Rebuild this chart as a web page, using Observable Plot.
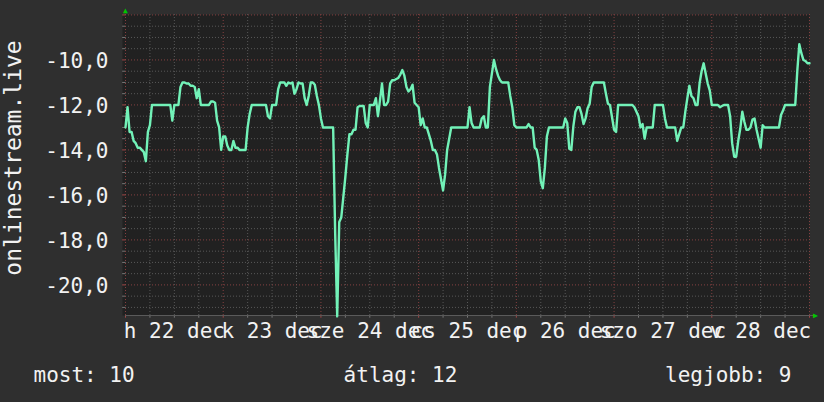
<!DOCTYPE html>
<html><head><meta charset="utf-8">
<script src="https://cdn.jsdelivr.net/npm/d3@7"></script>
<script src="https://cdn.jsdelivr.net/npm/@observablehq/plot@0.6"></script>
<style>
html,body{margin:0;padding:0;background:#2f2f2f;overflow:hidden;}
#chart svg{display:block;}
</style></head><body><div id="chart"></div>
<script>
// half-hour samples over one week, starting Monday 22 Dec 00:00
const stepHours = 0.5;
const values = [
-13.0,-12.1,-13.2,-13.2,-13.6,-13.7,-13.9,-13.9,-14.0,-14.1,-14.5,-13.2,-12.9,-12.0,-12.0,-12.0,-12.0,-12.0,-12.0,-12.0,-12.0,-12.0,-12.0,-12.7,
-12.0,-12.0,-12.0,-11.2,-11.0,-11.0,-11.05,-11.05,-11.15,-11.15,-11.2,-11.7,-11.3,-12.0,-12.0,-12.0,-12.0,-12.0,-11.85,-11.85,-11.9,-12.7,-13.0,-14.0,
-13.4,-13.4,-13.8,-14.0,-14.0,-13.6,-13.9,-13.9,-14.0,-14.0,-14.0,-14.0,-13.0,-12.4,-12.0,-12.0,-12.0,-12.0,-12.0,-12.0,-12.0,-12.0,-12.5,-12.6,
-12.0,-12.0,-12.0,-11.3,-11.0,-11.0,-11.0,-11.15,-11.0,-11.05,-11.0,-11.5,-11.3,-11.0,-11.05,-11.05,-11.7,-12.0,-11.6,-11.0,-11.0,-11.1,-11.6,-12.0,
-12.6,-13.0,-13.0,-13.0,-13.0,-13.0,-13.0,-17.7,-21.4,-17.2,-17.0,-16.1,-15.2,-14.2,-13.3,-13.3,-13.1,-13.1,-12.1,-12.05,-12.05,-12.05,-12.8,-13.0,
-12.0,-12.0,-12.0,-11.7,-12.5,-11.8,-11.05,-12.0,-12.0,-11.85,-11.05,-10.9,-10.9,-10.85,-10.8,-10.65,-10.45,-10.7,-11.2,-11.4,-11.3,-11.1,-11.9,-12.0,
-12.1,-12.9,-12.6,-13.0,-13.0,-13.3,-13.6,-14.0,-14.0,-14.2,-14.8,-15.3,-15.8,-15.1,-14.0,-13.5,-13.0,-13.0,-13.0,-13.0,-13.0,-13.0,-13.0,-13.0,
-13.0,-12.1,-12.8,-13.0,-13.0,-13.0,-13.0,-12.6,-12.5,-13.0,-13.0,-11.2,-10.6,-10.0,-10.4,-10.7,-10.9,-11.0,-11.0,-11.0,-11.0,-11.6,-12.1,-12.9,
-13.0,-13.0,-13.0,-13.0,-13.0,-13.0,-12.85,-13.0,-13.0,-13.9,-14.0,-14.45,-15.4,-15.7,-14.8,-13.4,-13.0,-13.0,-13.0,-13.0,-13.0,-13.0,-13.0,-13.0,
-12.6,-12.8,-13.95,-14.0,-12.95,-12.3,-12.1,-12.1,-12.4,-12.85,-12.6,-12.15,-11.95,-11.2,-11.0,-11.0,-11.0,-11.0,-11.0,-11.0,-11.5,-11.95,-12.0,-12.55,
-13.1,-13.2,-12.0,-12.0,-12.0,-12.0,-12.0,-12.0,-12.0,-12.0,-12.1,-12.3,-12.5,-13.0,-12.85,-13.5,-13.0,-13.0,-13.0,-13.0,-12.0,-12.0,-12.0,-12.0,
-12.0,-12.6,-13.0,-13.0,-13.0,-13.0,-13.0,-13.6,-13.3,-13.0,-13.0,-12.3,-11.7,-11.15,-11.6,-11.7,-12.0,-12.0,-11.05,-10.5,-10.15,-10.6,-11.05,-11.35,
-12.0,-12.0,-12.0,-12.0,-12.1,-12.05,-12.0,-12.0,-12.0,-12.5,-13.7,-14.3,-14.3,-13.6,-13.05,-12.3,-12.75,-13.1,-13.1,-13.0,-12.65,-12.6,-13.1,-13.5,
-13.9,-12.9,-13.0,-13.0,-13.0,-13.0,-13.0,-13.0,-13.0,-13.0,-12.45,-12.25,-12.0,-12.0,-12.0,-12.0,-12.0,-12.0,-10.5,-9.3,-9.7,-10.0,-10.05,-10.15,-10.15
];
const dayLabels = ["h 22 dec","k 23 dec","sze 24 dec","cs 25 dec","p 26 dec","szo 27 dec","v 28 dec"];
const yTicks = [-20,-18,-16,-14,-12,-10];
const seriesName = "onlinestream.live";
const legendTexts = ["most: 10","átlag: 12","legjobb: 9"];
const yDomain = [-21.36,-7.98];
const xDomain = [0,168];

const data = values.map((v,i) => ({t: i*stepHours, v}));
const font = "DejaVu Sans Mono";
const minorY = d3.range(-21, -7.9, 0.5).filter(v => v % 2 !== 0);
const majorY = d3.range(-20, -7.9, 2);
const minorX = d3.range(0, 168.1, 6).filter(h => h % 24 !== 0);
const majorX = d3.range(0, 168.1, 24);
const noons = dayLabels.map((d,i) => 12 + 24*i);
const txt = "#f2f2f2";
const minorC = "#585858", majorC = "#844040";

const chart = Plot.plot({
  width: 824, height: 402,
  marginLeft: 125, marginRight: 15, marginTop: 14, marginBottom: 87,
  style: {background: "#2f2f2f", fontFamily: font},
  x: {domain: xDomain, axis: null},
  y: {domain: yDomain, axis: null},
  marks: [
    Plot.frame({fill: "#212121", stroke: null, insetLeft: -3}),
    Plot.ruleY(minorY, {stroke: minorC, strokeDasharray: "1,2", strokeWidth: 1}),
    Plot.ruleX(minorX, {stroke: minorC, strokeDasharray: "1,2", strokeWidth: 1}),
    Plot.ruleY(majorY, {stroke: majorC, strokeDasharray: "1,2", strokeWidth: 1}),
    Plot.ruleX(majorX, {stroke: majorC, strokeDasharray: "1,2", strokeWidth: 1}),
    // small ticks
    Plot.ruleX(minorX, {x: d => d, y1: yDomain[0], y2: yDomain[0] - 0.12, stroke: "#777"}),
    Plot.ruleX(majorX, {x: d => d, y1: yDomain[0], y2: yDomain[0] - 0.12, stroke: "#a04848"}),
    Plot.ruleY(minorY, {y: d => d, x1: 0, x2: -0.7, stroke: "#777"}),
    Plot.ruleY(majorY, {y: d => d, x1: 0, x2: -0.7, stroke: "#a04848"}),
    Plot.ruleY([yDomain[0]], {stroke: "#5a5a5a", insetRight: -6}),
    Plot.line(data, {x: "t", y: "v", stroke: "#72f2b8", strokeWidth: 2.4, curve: "linear"}),
    // arrows
    Plot.text(["▲"], {x: () => 0, y: () => yDomain[1], text: d => d, fill: "#00c800", fontSize: 8, dy: -4}),
    Plot.text(["▶"], {x: () => 168, y: () => yDomain[0], text: d => d, fill: "#00c800", fontSize: 8, dx: 6}),
    // y tick labels
    Plot.text(yTicks, {frameAnchor: "left", y: d => d, text: d => d.toFixed(1).replace(".", ","),
      textAnchor: "end", dx: -17, dy: 1, fill: txt, fontSize: 21, fontFamily: font, lineAnchor: "middle"}),
    // x labels
    Plot.text(dayLabels, {x: (d,i) => noons[i], y: () => yDomain[0], text: d => d, dy: 16,
      fill: txt, fontSize: 21, fontFamily: font, lineAnchor: "middle"}),
    // y title
    Plot.text([seriesName], {frameAnchor: "left", text: d => d, rotate: -90, dx: -112, dy: -7,
      textAnchor: "middle", fill: txt, fontSize: 23, fontFamily: font, lineAnchor: "middle"}),
    // legend line
    Plot.text([legendTexts[0]], {frameAnchor: "bottom-left", text: d => d, textAnchor: "start", dx: -92, dy: 60,
      fill: txt, fontSize: 21, fontFamily: font, lineAnchor: "middle"}),
    Plot.text([legendTexts[1]], {frameAnchor: "bottom", text: d => d, textAnchor: "middle", dx: -67, dy: 60,
      fill: txt, fontSize: 21, fontFamily: font, lineAnchor: "middle"}),
    Plot.text([legendTexts[2]], {frameAnchor: "bottom-right", text: d => d, textAnchor: "end", dx: -18, dy: 60,
      fill: txt, fontSize: 21, fontFamily: font, lineAnchor: "middle"})
  ]
});
document.getElementById("chart").appendChild(chart);
</script></body></html>
